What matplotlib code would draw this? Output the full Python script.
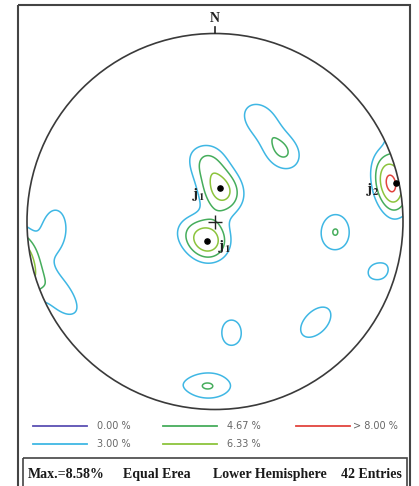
import numpy as np
import matplotlib
matplotlib.use("Agg")
import matplotlib.pyplot as plt
from matplotlib.patches import Circle, Rectangle

# Pole orientations of the 42 joint measurements (trend, plunge in degrees)
pole_trend = [8, 10, 351, 354, 31,
              205, 198, 188, 254,
              74, 82, 78, 78,
              247, 241,
              270.5, 264,
              20, 27, 42, 48,
              94, 96,
              108, 106,
              139, 131,
              171, 172,
              183.5, 181.5,
              317, 338, 294, 326, 41, 224, 202, 237, 121, 161, 265]
pole_plunge = [74.5, 77, 61, 66, 79,
               82, 80, 80.6, 77,
               5, 5, 2, 8.5,
               8, 12,
               17, 14.5,
               37.5, 42.5, 47.5, 47,
               36, 36,
               16, 4,
               25, 25,
               45.5, 34.5,
               13.4, 13.5,
               20, 8, 33, 47, 8, 21, 10, 51, 57, 12, 48]

# Contour levels (% of poles per 1% area) and their colours
levels = [0.00, 3.00, 4.67, 6.33, 8.00]
level_labels = ["0.00 %", "3.00 %", "4.67 %", "6.33 %", "> 8.00 %"]
level_colors = ["#5a4fb3", "#3fb7e4", "#46ad5c", "#8cc43d", "#e2443e"]

# Mean poles of the joint sets
set_labels = [r"$\mathbf{j_1}$", r"$\mathbf{j_1}$", r"$\mathbf{j_2}$"]
set_trend = [8.5, 202, 78]
set_plunge = [75.4, 81, 2]

max_density = 8.58
entries = 42

plt.rcParams["mathtext.fontset"] = "stix"

fig = plt.figure(figsize=(4.19, 4.86), dpi=100)
ax = fig.add_axes([0, 0, 1, 1])
ax.set_xlim(0, 419)
ax.set_ylim(486, 0)
ax.set_aspect("equal")
ax.axis("off")

cx, cy, R = 215.0, 221.5, 188.0


def project(tr, pl):
    """Equal-area, lower-hemisphere projection -> pixel coordinates."""
    tr = np.radians(np.asarray(tr, float))
    pl = np.radians(np.asarray(pl, float))
    r = np.sqrt(2) * np.sin((np.pi / 2 - pl) / 2)
    return cx + R * r * np.sin(tr), cy - R * r * np.cos(tr)


# Density grid on the net
g = np.linspace(-1.03, 1.03, 381)
gx, gy = np.meshgrid(g, g)
rr = np.minimum(np.hypot(gx, gy), 1.0)
theta = 2 * np.arcsin(rr / np.sqrt(2))
az = np.arctan2(gx, gy)
V = np.stack([np.sin(theta) * np.sin(az),
              np.sin(theta) * np.cos(az),
              -np.cos(theta)], axis=-1).reshape(-1, 3)

tr = np.radians(pole_trend)
pl = np.radians(pole_plunge)
P = np.stack([np.cos(pl) * np.sin(tr), np.cos(pl) * np.cos(tr), -np.sin(pl)], axis=-1)

kappa = 68.0
cosang = np.abs(V @ P.T)
density = (100.0 / len(pole_trend)) * np.exp(kappa * (cosang - 1.0)).sum(axis=1)
density = density.reshape(gx.shape)

X = cx + R * gx
Y = cy - R * gy

prim = Circle((cx, cy), R, facecolor="none", edgecolor="#3a3a3a", lw=1.2, zorder=3)
ax.add_patch(prim)

cs = ax.contour(X, Y, density, levels=levels[1:], colors=level_colors[1:],
                linewidths=1.1, zorder=2)
cs.set_clip_path(prim)

# North mark
ax.plot([cx, cx], [cy - R - 6, cy - R], color="#222222", lw=1.2, zorder=4)
ax.text(cx, 18, "N", ha="center", va="center", fontsize=10,
        family="Liberation Serif", weight="bold", color="#222222")

# Centre cross
ax.plot(cx, cy + 0.5, marker="+", ms=10, mew=1.0, color="#222222", zorder=4)

# Joint set poles and labels
sx, sy = project(set_trend, set_plunge)
ax.scatter(sx, sy, s=14, color="black", zorder=5)
label_offsets = [(-22, 6), (17, 6), (-23, 6)]
for (x, y), lab, (dx, dy) in zip(zip(sx, sy), set_labels, label_offsets):
    ax.text(x + dx, y + dy, lab, ha="center", va="center", fontsize=11, color="#222222")

# Legend of contour levels
legend_pos = [(33, 426), (33, 444), (163, 426), (163, 444), (296, 426)]
for (x0, y0), col, lab in zip(legend_pos, level_colors, level_labels):
    ax.plot([x0, x0 + 54], [y0, y0], color=col, lw=1.3)
    ax.text(x0 + 64 if lab[0] != ">" else x0 + 57, y0, lab, ha="left", va="center",
            fontsize=7, color="#666666", family="DejaVu Sans")

# Frames
ax.add_patch(Rectangle((18, 5), 392, 500, facecolor="none", edgecolor="#444444",
                       lw=1.5, clip_on=False))
ax.add_patch(Rectangle((23, 458), 384, 40, facecolor="none", edgecolor="#444444",
                       lw=1.2, clip_on=False))

footer = dict(fontsize=10, family="Liberation Serif", weight="bold", color="#1a1a1a", va="center")
ax.text(28, 474, f"Max.={max_density:.2f}%", ha="left", **footer)
ax.text(123, 474, "Equal Erea", ha="left", **footer)
ax.text(213, 474, "Lower Hemisphere", ha="left", **footer)
ax.text(402, 474, f"{entries} Entries", ha="right", **footer)

fig.savefig("out.png", dpi=100)
